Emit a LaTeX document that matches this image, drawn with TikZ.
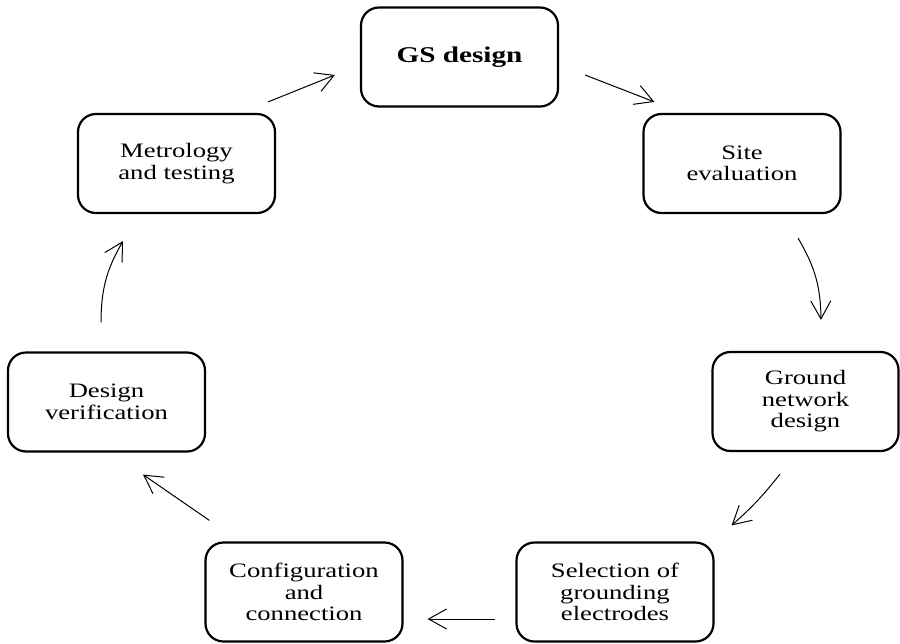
\documentclass[tikz,border=0pt]{standalone}
\usepackage{fontspec}
\setmainfont[FakeStretch=1.3]{Liberation Serif}
\usetikzlibrary{arrows.meta}

\begin{document}
\begin{tikzpicture}[x=1pt,y=-1pt,>={Straight Barb[length=18pt,width=20pt]},
		stage/.style={draw,line width=2.2pt,rounded corners=18pt,minimum width=197pt,minimum height=99pt,align=center,font=\fontsize{20.5}{21.5}\selectfont},
		flow/.style={->,line width=1pt}]
		\useasboundingbox (0,0) rectangle (900,643);
		
		% stages of the cycle
		\node[stage] (gs) at (459.5,57) {\textbf{\fontsize{22.5}{24}\selectfont GS design}};
		\node[stage] (site) at (742,163.5) {Site\\evaluation};
		\node[stage,minimum width=186pt] (ground) at (805.5,401.5) {Ground\\network\\design};
		\node[stage] (select) at (615,592) {Selection of\\grounding\\electrodes};
		\node[stage] (config) at (304,592) {Configuration\\and\\connection};
		\node[stage] (verify) at (106.5,402) {Design\\verification};
		\node[stage] (metro) at (176.5,163.5) {Metrology\\and testing};
		
		% arrows between stages
		\draw[flow] ([shift={(-8,-11)}]metro.north east) -- ([shift={(-25,18)}]gs.west);
		\draw[flow] ([shift={(26,18)}]gs.east) -- ([shift={(12,-11)}]site.north west);
		\draw[flow] ([shift={(56,24)}]site.south) to[bend left=15] ([shift={(15.5,-31)}]ground.north);
		\draw[flow] ([shift={(-25.5,22)}]ground.south) to[bend left=5] ([shift={(17,-16)}]select.north east);
		\draw[flow] ([shift={(-20,27)}]select.west) -- ([shift={(24,27)}]config.east);
		\draw[flow] ([shift={(5,-21)}]config.north west) -- ([shift={(36.5,22)}]verify.south);
		\draw[flow] ([shift={(-5.5,-29)}]verify.north) to[bend left=15] ([shift={(-53.5,27)}]metro.south);
\end{tikzpicture}
\end{document}
